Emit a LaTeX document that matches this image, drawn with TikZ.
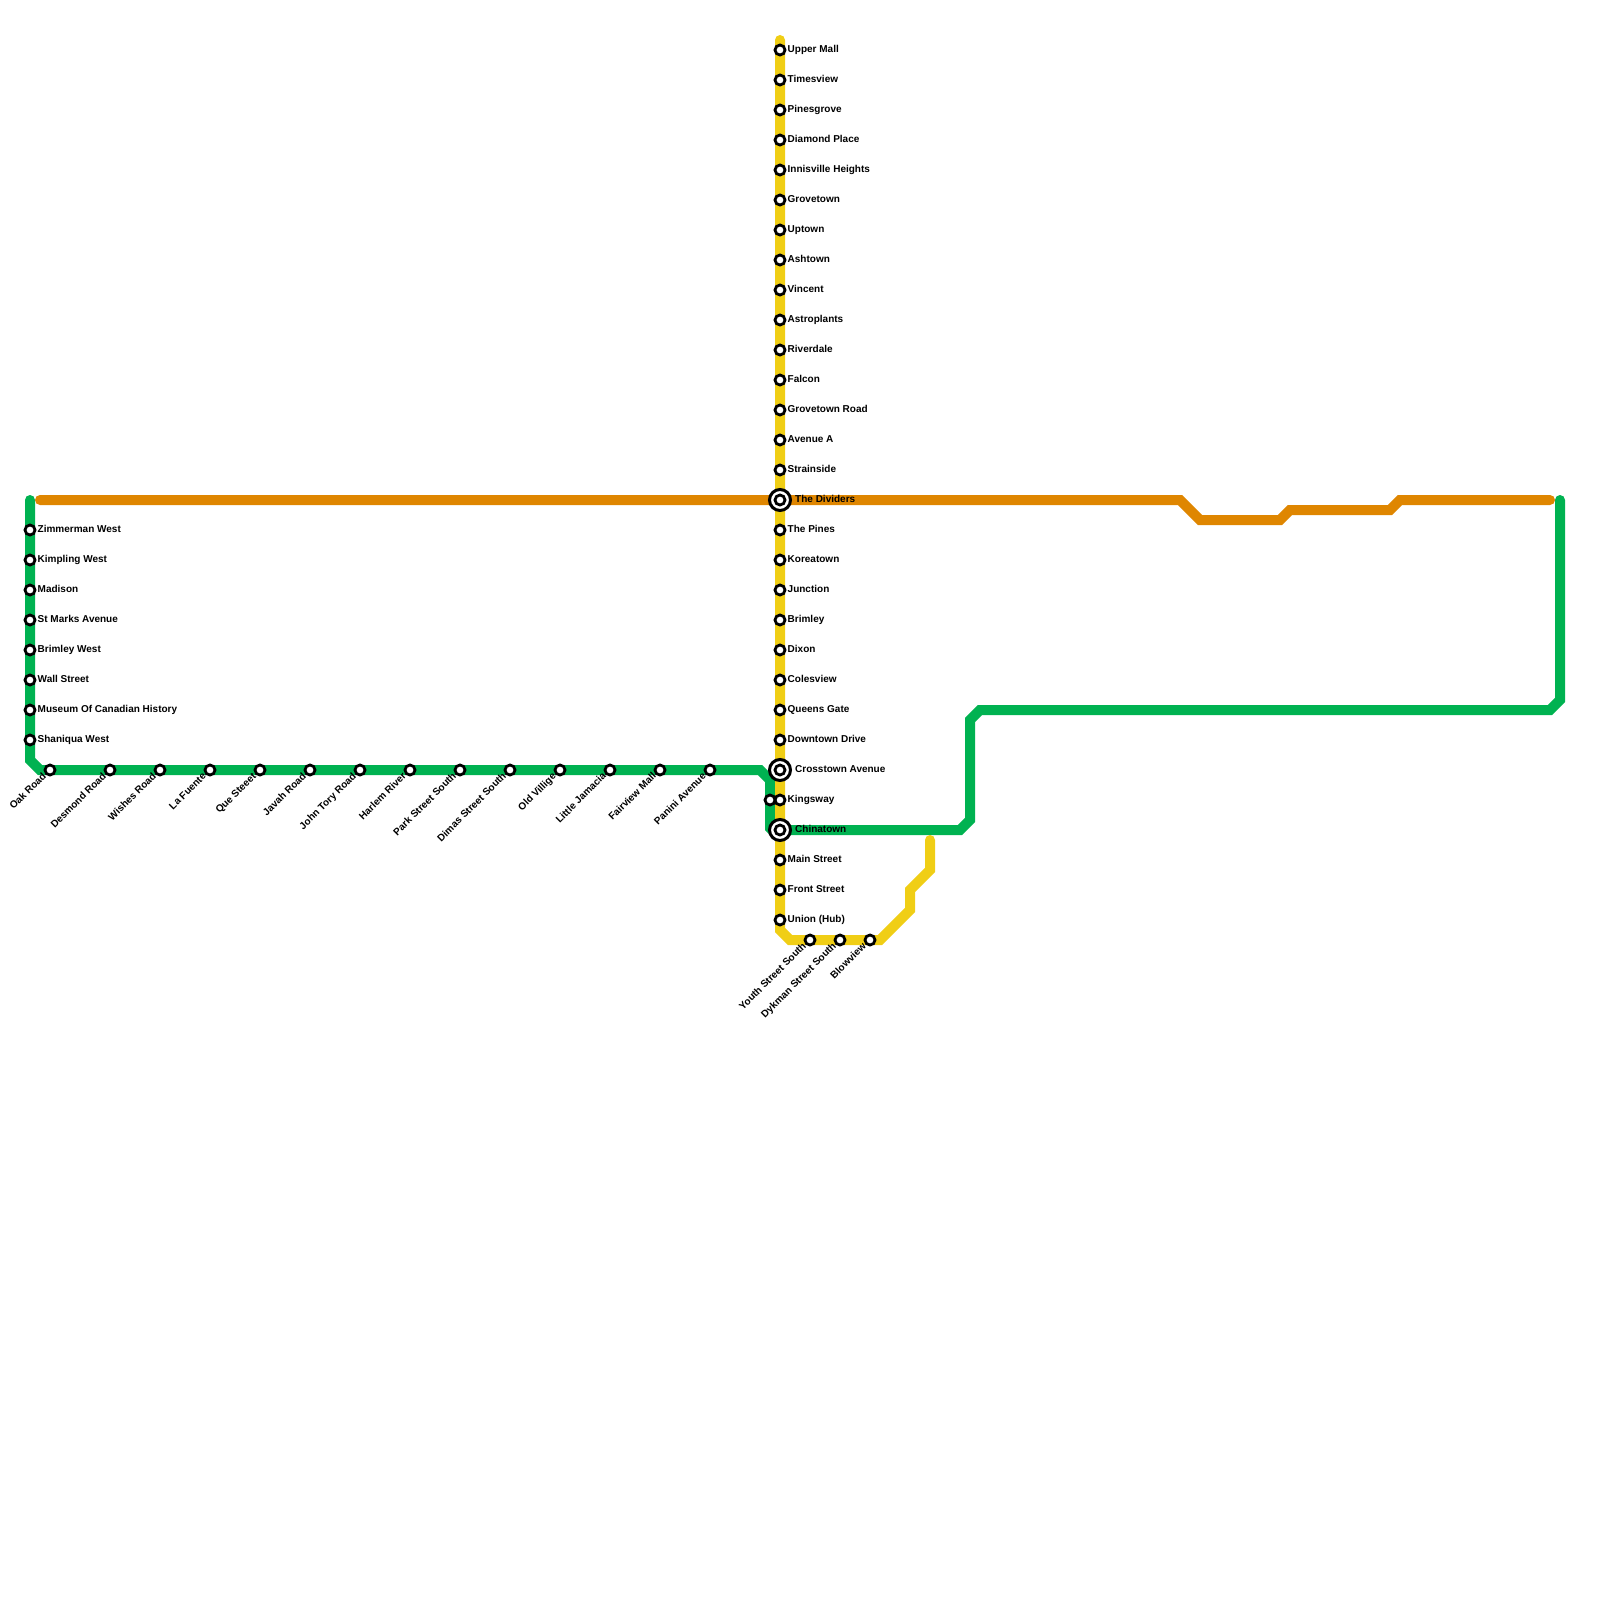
\documentclass[tikz,border=0pt]{standalone}
\usepackage{fontspec}
\setmainfont{Liberation Sans}
\definecolor{lgreen}{HTML}{00B251}
\definecolor{lyellow}{HTML}{F0CE15}
\definecolor{lorange}{HTML}{DF8600}
\tikzset{
  x=1pt,y=-1pt,
  metro/.style={line width=10pt,line cap=round,line join=miter,miter limit=4},
  stn/.style={circle,draw=black,fill=white,line width=2.8pt,minimum size=10pt,inner sep=0pt,outer sep=0pt},
  hub/.style={circle,draw=black,fill=white,line width=3pt,minimum size=21pt,inner sep=0pt,outer sep=0pt},
  lbl/.style={inner sep=0pt,text height=7pt,text depth=2pt,font=\bfseries\fontsize{10}{10}\selectfont,text=black},
  rlbl/.style={lbl,anchor=west},
  dlbl/.style={lbl,anchor=east,rotate=45},
}
\newcommand{\rstn}[4]{\node[stn] (#1) at (#2,#3) {}; \node[rlbl] (#1t) at (#2+7.5,#3) {#4};}
\newcommand{\dstn}[3]{\node[stn] (#1) at (#2,770) {}; \node[dlbl] (#1t) at (#2-5,775) {#3};}
\newcommand{\hstn}[4]{\node[hub] (#1h) at (#2,#3) {}; \node[stn] (#1) at (#2,#3) {}; \node[rlbl] (#1t) at (#2+15,#3) {#4};}
\begin{document}
\begin{tikzpicture}
\useasboundingbox (0,0) rectangle (1600,1600);
% waypoints
\foreach \n/\a/\b in {g1/30/500,g2/30/760,g3/40/770,g4/760/770,g5/770/780,g6a/770/828,g6b/772/830,g7/960/830,g8/970/820,g9/970/720,g10/980/710,g11/1550/710,g12/1560/700,g13/1560/500,
 y1/780/40,y2/780/930,y3/790/940,y4/880/940,y5/910/910,y6/910/890,y7/930/870,y8/930/840,
 o1/40/500,o2/1180/500,o3/1200/520,o4/1280/520,o5/1290/510,o6/1390/510,o7/1400/500,o8/1550/500}
  {\coordinate (\n) at (\a,\b);}
\draw[metro,lgreen] (g1)--(g2)--(g3)--(g4)--(g5)--(g6a)--(g6b)--(g7)--(g8)--(g9)--(g10)--(g11)--(g12)--(g13);
\draw[metro,lyellow] (y1)--(y2)--(y3)--(y4)--(y5)--(y6)--(y7)--(y8);
\draw[metro,lorange] (o1)--(o2)--(o3)--(o4)--(o5)--(o6)--(o7)--(o8);
% yellow line
\rstn{a1}{780}{50}{Upper Mall}
\rstn{a2}{780}{80}{Timesview}
\rstn{a3}{780}{110}{Pinesgrove}
\rstn{a4}{780}{140}{Diamond Place}
\rstn{a5}{780}{170}{Innisville Heights}
\rstn{a6}{780}{200}{Grovetown}
\rstn{a7}{780}{230}{Uptown}
\rstn{a8}{780}{260}{Ashtown}
\rstn{a9}{780}{290}{Vincent}
\rstn{a10}{780}{320}{Astroplants}
\rstn{a11}{780}{350}{Riverdale}
\rstn{a12}{780}{380}{Falcon}
\rstn{a13}{780}{410}{Grovetown Road}
\rstn{a14}{780}{440}{Avenue A}
\rstn{a15}{780}{470}{Strainside}
\hstn{a16}{780}{500}{The Dividers}
\rstn{a17}{780}{530}{The Pines}
\rstn{a18}{780}{560}{Koreatown}
\rstn{a19}{780}{590}{Junction}
\rstn{a20}{780}{620}{Brimley}
\rstn{a21}{780}{650}{Dixon}
\rstn{a22}{780}{680}{Colesview}
\rstn{a23}{780}{710}{Queens Gate}
\rstn{a24}{780}{740}{Downtown Drive}
\hstn{a25}{780}{770}{Crosstown Avenue}
\rstn{a26}{780}{800}{Kingsway}
\node[stn] (k2) at (770,800) {};
\hstn{a27}{780}{830}{Chinatown}
\rstn{a28}{780}{860}{Main Street}
\rstn{a29}{780}{890}{Front Street}
\rstn{a30}{780}{920}{Union (Hub)}
\node[stn] (b1) at (810,940) {}; \node[dlbl] (b1t) at (805,945) {Youth Street South};
\node[stn] (b2) at (840,940) {}; \node[dlbl] (b2t) at (835,945) {Dykman Street South};
\node[stn] (b3) at (870,940) {}; \node[dlbl] (b3t) at (865,945) {Blowview};
% green line
\rstn{c1}{30}{530}{Zimmerman West}
\rstn{c2}{30}{560}{Kimpling West}
\rstn{c3}{30}{590}{Madison}
\rstn{c4}{30}{620}{St Marks Avenue}
\rstn{c5}{30}{650}{Brimley West}
\rstn{c6}{30}{680}{Wall Street}
\rstn{c7}{30}{710}{Museum Of Canadian History}
\rstn{c8}{30}{740}{Shaniqua West}
\dstn{d1}{50}{Oak Road}
\dstn{d2}{110}{Desmond Road}
\dstn{d3}{160}{Wishes Road}
\dstn{d4}{210}{La Fuente}
\dstn{d5}{260}{Que Steeet}
\dstn{d6}{310}{Javah Road}
\dstn{d7}{360}{John Tory Road}
\dstn{d8}{410}{Harlem River}
\dstn{d9}{460}{Park Street South}
\dstn{d10}{510}{Dimas Street South}
\dstn{d11}{560}{Old Villige}
\dstn{d12}{610}{Little Jamacia}
\dstn{d13}{660}{Fairview Mall}
\dstn{d14}{710}{Panini Avenue}
\end{tikzpicture}
\end{document}
